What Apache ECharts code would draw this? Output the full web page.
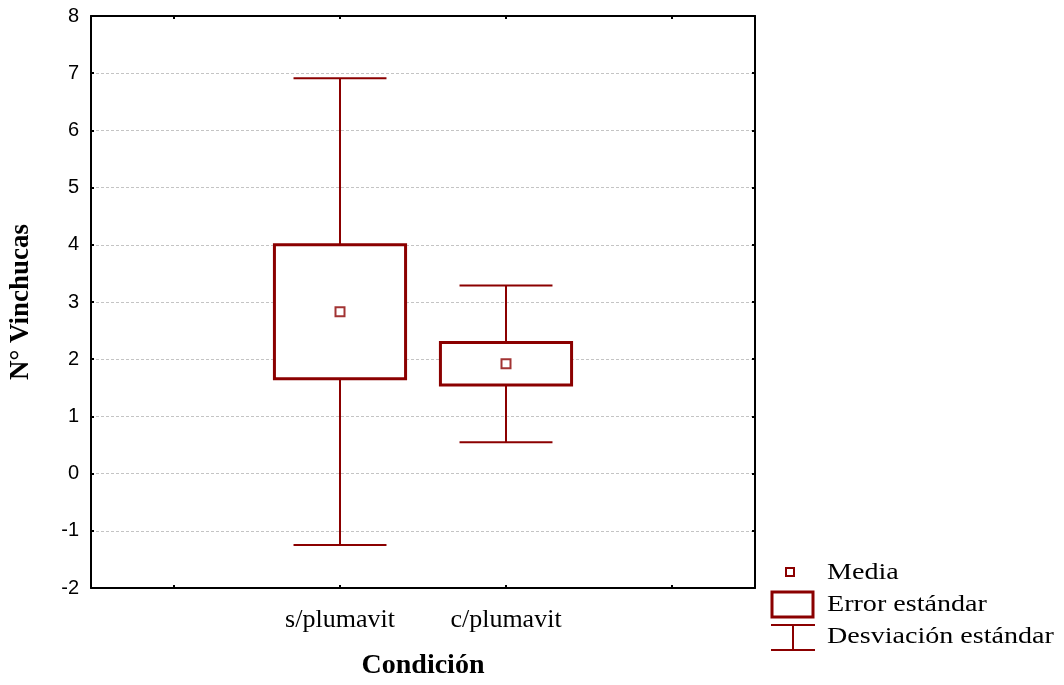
<!DOCTYPE html>
<html>
<head>
<meta charset="utf-8">
<title>N° Vinchucas por condición</title>
<script src="https://cdn.jsdelivr.net/npm/echarts@6/dist/echarts.min.js"></script>
<style>
  html, body { margin: 0; padding: 0; background: #ffffff; }
  #chart { width: 1064px; height: 685px; }
</style>
</head>
<body>
<div id="chart"></div>
<script>
// Conditions compared
const categories = ['s/plumavit', 'c/plumavit'];
// Mean number of vinchucas per condition
const means = [2.83, 1.92];
// Mean ± standard error
const seLow = [1.66, 1.55];
const seHigh = [4.00, 2.29];
// Mean ± standard deviation
const sdLow = [-1.25, 0.55];
const sdHigh = [6.91, 3.29];
// Y axis ticks
const yTicks = [-2, -1, 0, 1, 2, 3, 4, 5, 6, 7, 8];

const RED = '#8b0000';
const SERIF = '"Liberation Serif", "Times New Roman", serif';
const SANS = '"Liberation Sans", Arial, sans-serif';

// Category slots: an empty slot on each side of the two conditions
const slots = [''].concat(categories, ['']);

const boxData = categories.map((c, i) => [i + 1, seLow[i], seHigh[i], sdLow[i], sdHigh[i]]);
const meanData = categories.map((c, i) => [i + 1, means[i]]);

const chart = echarts.init(document.getElementById('chart'), null, { renderer: 'canvas' });

function renderBox(params, api) {
  const x = api.value(0);
  const top = api.coord([x, api.value(2)]);
  const bottom = api.coord([x, api.value(1)]);
  const whiskerTop = api.coord([x, api.value(4)]);
  const whiskerBottom = api.coord([x, api.value(3)]);
  const band = api.size([1, 0])[0];
  const boxW = band * 0.79;
  const capW = band * 0.56;
  const cx = top[0];
  const lineStyle = { stroke: RED, lineWidth: 2, fill: null };
  return {
    type: 'group',
    children: [
      { type: 'line', shape: { x1: cx, y1: whiskerTop[1], x2: cx, y2: top[1] }, style: lineStyle },
      { type: 'line', shape: { x1: cx - capW / 2, y1: whiskerTop[1], x2: cx + capW / 2, y2: whiskerTop[1] }, style: lineStyle },
      { type: 'line', shape: { x1: cx, y1: bottom[1], x2: cx, y2: whiskerBottom[1] }, style: lineStyle },
      { type: 'line', shape: { x1: cx - capW / 2, y1: whiskerBottom[1], x2: cx + capW / 2, y2: whiskerBottom[1] }, style: lineStyle },
      {
        type: 'rect',
        shape: { x: cx - boxW / 2, y: top[1], width: boxW, height: bottom[1] - top[1] },
        style: { fill: '#ffffff', stroke: RED, lineWidth: 3 }
      }
    ]
  };
}

// Legend entry text, widened a little to the print face's proportions
const legendText = (y, text) => ({
  type: 'text', x: 827, y: y, scaleX: 1.17,
  style: { text: text, font: '24px ' + SERIF, fill: '#000000', textVerticalAlign: 'middle' }
});

const frameAxis = {
  axisLine: { show: true, onZero: false, lineStyle: { color: '#000', width: 2 } },
  axisTick: { show: true, inside: true, length: 3, lineStyle: { color: '#000', width: 2 } }
};

const option = {
  animation: false,
  backgroundColor: '#ffffff',
  grid: { left: 90, right: 309, top: 16, bottom: 96, show: false },
  xAxis: [
    {
      type: 'category', data: slots, position: 'bottom', boundaryGap: true,
      axisLine: frameAxis.axisLine,
      axisTick: Object.assign({ alignWithLabel: true }, frameAxis.axisTick),
      axisLabel: { show: true, margin: 19, fontFamily: SERIF, fontSize: 26, color: '#000' },
      splitLine: { show: false },
      name: 'Condición', nameLocation: 'middle', nameGap: 64,
      nameTextStyle: { fontFamily: SERIF, fontSize: 28, fontWeight: 'bold', color: '#000' }
    },
    {
      type: 'category', data: slots, position: 'top', boundaryGap: true,
      axisLine: frameAxis.axisLine,
      axisTick: Object.assign({ alignWithLabel: true }, frameAxis.axisTick),
      axisLabel: { show: false },
      splitLine: { show: false }
    }
  ],
  yAxis: [
    {
      type: 'value', min: yTicks[0], max: yTicks[yTicks.length - 1], interval: 1,
      position: 'left',
      axisLine: frameAxis.axisLine,
      axisTick: frameAxis.axisTick,
      axisLabel: { margin: 12, fontFamily: SANS, fontSize: 20, color: '#000' },
      splitLine: { show: true, lineStyle: { color: '#c4c4c4', width: 1, type: [3, 2] } },
      name: 'N° Vinchucas', nameLocation: 'middle', nameGap: 56, nameRotate: 90,
      nameTextStyle: { fontFamily: SERIF, fontSize: 27, fontWeight: 'bold', color: '#000' }
    },
    {
      type: 'value', min: yTicks[0], max: yTicks[yTicks.length - 1], interval: 1,
      position: 'right',
      axisLine: frameAxis.axisLine,
      axisTick: frameAxis.axisTick,
      axisLabel: { show: false },
      splitLine: { show: false }
    }
  ],
  series: [
    {
      type: 'custom', name: 'Error estándar', xAxisIndex: 0, yAxisIndex: 0,
      data: boxData, renderItem: renderBox, z: 3
    },
    {
      type: 'scatter', name: 'Media', xAxisIndex: 0, yAxisIndex: 0,
      data: meanData, symbol: 'rect', symbolSize: 9,
      itemStyle: { color: '#ffffff', borderColor: RED, borderWidth: 2 },
      z: 5
    }
  ],
  graphic: [
    { type: 'rect', shape: { x: 786, y: 568, width: 8, height: 8 }, style: { fill: '#fff', stroke: RED, lineWidth: 2 } },
    { type: 'rect', shape: { x: 772, y: 592, width: 41, height: 25 }, style: { fill: '#fff', stroke: RED, lineWidth: 3 } },
    { type: 'line', shape: { x1: 771, y1: 625, x2: 815, y2: 625 }, style: { stroke: RED, lineWidth: 2 } },
    { type: 'line', shape: { x1: 793, y1: 625, x2: 793, y2: 650 }, style: { stroke: RED, lineWidth: 2 } },
    { type: 'line', shape: { x1: 771, y1: 650, x2: 815, y2: 650 }, style: { stroke: RED, lineWidth: 2 } },
    legendText(573, 'Media'),
    legendText(605, 'Error estándar'),
    legendText(637, 'Desviación estándar')
  ]
};

chart.setOption(option);
</script>
</body>
</html>
